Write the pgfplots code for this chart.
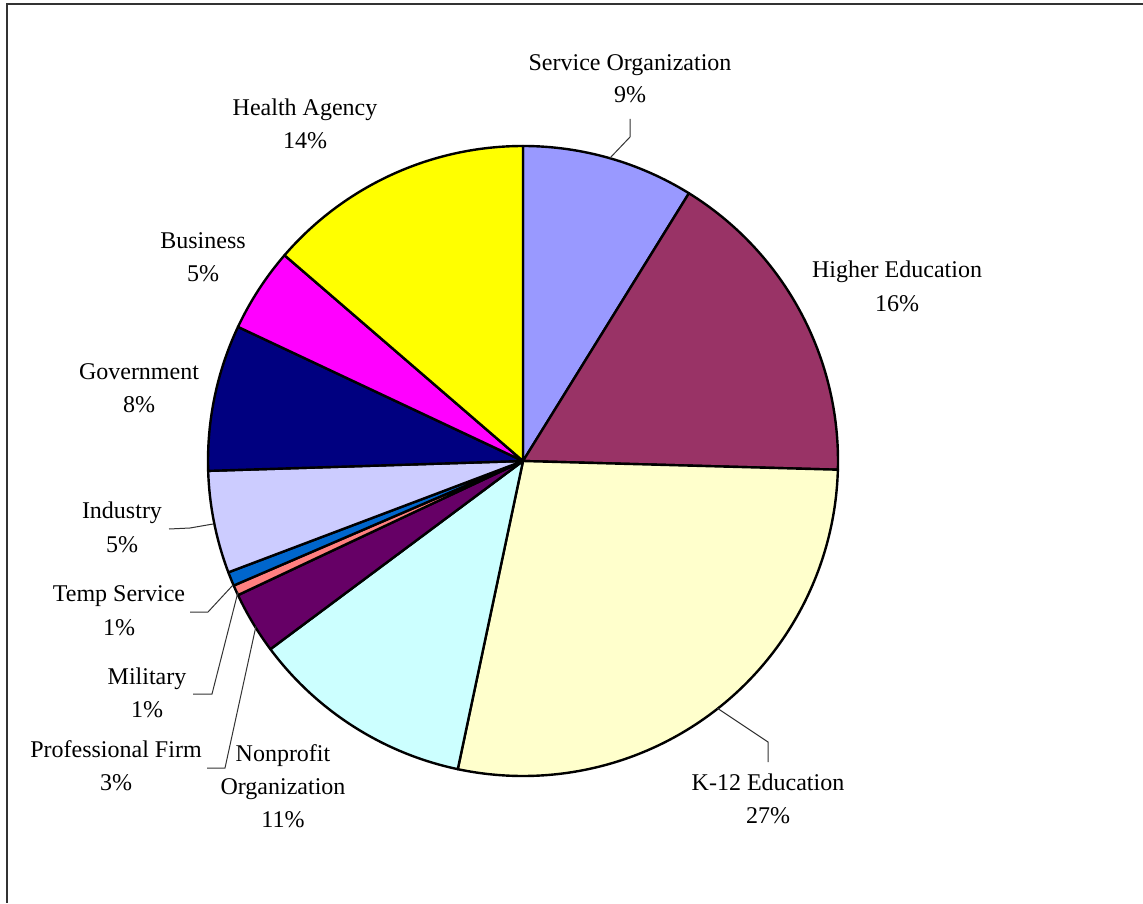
\documentclass[border=0pt]{standalone}
\usepackage{fontspec}
\setmainfont{Liberation Serif}
\usepackage{pgfplots}
\usepackage{pgfplotstable}
\pgfplotsset{compat=1.18}

% Excel palette, slices in clockwise order from 12 o'clock
\definecolor{pie0}{HTML}{9999FF}
\definecolor{pie1}{HTML}{993366}
\definecolor{pie2}{HTML}{FFFFCC}
\definecolor{pie3}{HTML}{CCFFFF}
\definecolor{pie4}{HTML}{660066}
\definecolor{pie5}{HTML}{FF8080}
\definecolor{pie6}{HTML}{0066CC}
\definecolor{pie7}{HTML}{CCCCFF}
\definecolor{pie8}{HTML}{000080}
\definecolor{pie9}{HTML}{FF00FF}
\definecolor{pie10}{HTML}{FFFF00}

% shares in percent
\pgfplotstableread{
sector              value
ServiceOrganization 8.83
HigherEducation     16.61
K12Education        27.88
NonprofitOrg        11.49
ProfessionalFirm    3.19
Military            0.53
TempService         0.72
Industry            5.25
Government          7.50
Business            4.33
HealthAgency        13.67
}\pietable

\begin{document}
\begin{tikzpicture}[lbl/.style={anchor=base, inner sep=0pt, font=\fontsize{12}{14}\selectfont}]
\begin{axis}[
    width=571.5pt, height=451.5pt, scale only axis,
    xmin=0, xmax=1143, ymin=0, ymax=903, y dir=reverse,
    hide axis, clip=false]

    \gdef\cum{0}
    \pgfplotsinvokeforeach{0,...,10}{
        \pgfplotstablegetelem{#1}{value}\of\pietable
        \let\v\pgfplotsretval
        \pgfmathsetmacro\sa{90-3.6*\cum}
        \pgfmathsetmacro\ea{90-3.6*(\cum+\v)}
        \pgfmathsetmacro\newcum{\cum+\v}
        \global\let\cum\newcum
        \edef\wedge{\noexpand\filldraw[fill=pie#1, draw=black, line width=1.2pt, line join=round]
            (axis cs:523,461) -- ++(\sa:157.5pt) arc[start angle=\sa, end angle=\ea, radius=157.5pt] -- cycle;}
        \wedge
    }

    % leader lines
    \draw[line width=0.5pt, black!80] (axis cs:630,119) -- (axis cs:630,137) -- (axis cs:610,158);
    \draw[line width=0.5pt, black!80] (axis cs:768,762) -- (axis cs:768,742) -- (axis cs:717,708);
    \draw[line width=0.5pt, black!80] (axis cs:169,529) -- (axis cs:190,528) -- (axis cs:213,524);
    \draw[line width=0.5pt, black!80] (axis cs:190,612) -- (axis cs:208,612) -- (axis cs:233,585);
    \draw[line width=0.5pt, black!80] (axis cs:193,694) -- (axis cs:212,694) -- (axis cs:238,592);
    \draw[line width=0.5pt, black!80] (axis cs:207,768) -- (axis cs:225,768) -- (axis cs:256,626);

    % labels
    \node[lbl] at (axis cs:630,71) {Service Organization};
    \node[lbl] at (axis cs:630,103) {9\%};
    \node[lbl] at (axis cs:897,278) {Higher Education};
    \node[lbl] at (axis cs:897,311) {16\%};
    \node[lbl] at (axis cs:768,790) {K-12 Education};
    \node[lbl] at (axis cs:768,823) {27\%};
    \node[lbl] at (axis cs:283,761) {Nonprofit};
    \node[lbl] at (axis cs:283,794) {Organization};
    \node[lbl] at (axis cs:283,827) {11\%};
    \node[lbl] at (axis cs:116,757) {Professional Firm};
    \node[lbl] at (axis cs:116,790) {3\%};
    \node[lbl] at (axis cs:147,684) {Military};
    \node[lbl] at (axis cs:147,717) {1\%};
    \node[lbl] at (axis cs:119,601) {Temp Service};
    \node[lbl] at (axis cs:119,635) {1\%};
    \node[lbl] at (axis cs:122,518) {Industry};
    \node[lbl] at (axis cs:122,552) {5\%};
    \node[lbl] at (axis cs:139,379) {Government};
    \node[lbl] at (axis cs:139,412) {8\%};
    \node[lbl] at (axis cs:203,249) {Business};
    \node[lbl] at (axis cs:203,282) {5\%};
    \node[lbl] at (axis cs:305,116) {Health Agency};
    \node[lbl] at (axis cs:305,149) {14\%};

    % chart frame (top and left edges visible)
    \draw[line width=1pt, black!80] (axis cs:1143,4) -- (axis cs:7,4) -- (axis cs:7,903);
\end{axis}
\pgfresetboundingbox
\path (current axis.south west) rectangle (current axis.north east);
\end{tikzpicture}
\end{document}
